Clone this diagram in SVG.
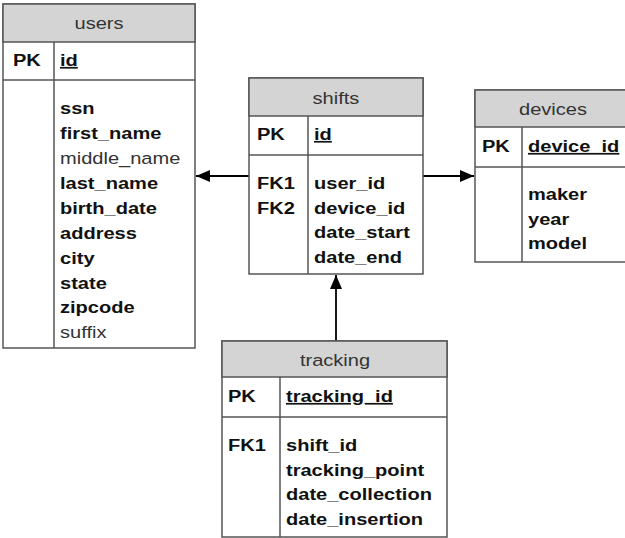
<svg xmlns="http://www.w3.org/2000/svg" width="625" height="538" viewBox="0 0 625 538">
<style>
.box{fill:#fff;stroke:#555;stroke-width:1.5}
.hdr{fill:#d4d4d4;stroke:#555;stroke-width:1.5}
.ln{stroke:#555;stroke-width:1.5;fill:none}
text{font-family:"Liberation Sans",Arial,sans-serif;font-size:17px;fill:#111}
.t{fill:#333;text-anchor:middle}
.b{font-weight:bold}
.u{font-weight:bold;text-decoration:underline}
.r{fill:#333}
.con{stroke:#000;stroke-width:1.8;fill:none}
</style>
<defs>
<marker id="ah" viewBox="0 0 14 12" refX="14" refY="6" markerWidth="14" markerHeight="12" markerUnits="userSpaceOnUse" orient="auto">
<path d="M0,0 L14,6 L0,12 Z" fill="#000"/>
</marker>
</defs>
<g id="connectors">
<line class="con" x1="249" y1="176" x2="196" y2="176" marker-end="url(#ah)"/>
<line class="con" x1="423" y1="176" x2="474" y2="176" marker-end="url(#ah)"/>
<line class="con" x1="336" y1="341" x2="336" y2="275" marker-end="url(#ah)"/>
</g>
<g id="users">
<rect class="box" x="3" y="4" width="192" height="344"/>
<rect class="hdr" x="3" y="4" width="192" height="38"/>
<line class="ln" x1="3" y1="80" x2="195" y2="80"/>
<line class="ln" x1="54" y1="42" x2="54" y2="348"/>
<text class="t" transform="translate(99,29) scale(1.18,1)">users</text>
<text class="b" transform="translate(13,66) scale(1.18,1)">PK</text>
<text class="u" transform="translate(60,66) scale(1.18,1)">id</text>
<text class="b" transform="translate(60,114) scale(1.18,1)">ssn</text>
<text class="b" transform="translate(60,139) scale(1.18,1)">first_name</text>
<text class="r" transform="translate(60,164) scale(1.18,1)">middle_name</text>
<text class="b" transform="translate(60,189) scale(1.18,1)">last_name</text>
<text class="b" transform="translate(60,214) scale(1.18,1)">birth_date</text>
<text class="b" transform="translate(60,239) scale(1.18,1)">address</text>
<text class="b" transform="translate(60,264) scale(1.18,1)">city</text>
<text class="b" transform="translate(60,289) scale(1.18,1)">state</text>
<text class="b" transform="translate(60,313) scale(1.18,1)">zipcode</text>
<text class="r" transform="translate(60,338) scale(1.18,1)">suffix</text>
</g>
<g id="shifts">
<rect class="box" x="249" y="78" width="174" height="196"/>
<rect class="hdr" x="249" y="78" width="174" height="38"/>
<line class="ln" x1="249" y1="155" x2="423" y2="155"/>
<line class="ln" x1="308" y1="116" x2="308" y2="274"/>
<text class="t" transform="translate(336,104) scale(1.18,1)">shifts</text>
<text class="b" transform="translate(257,140) scale(1.18,1)">PK</text>
<text class="u" transform="translate(314,140) scale(1.18,1)">id</text>
<text class="b" transform="translate(257,189) scale(1.18,1)">FK1</text>
<text class="b" transform="translate(257,214) scale(1.18,1)">FK2</text>
<text class="b" transform="translate(314,189) scale(1.18,1)">user_id</text>
<text class="b" transform="translate(314,214) scale(1.18,1)">device_id</text>
<text class="b" transform="translate(314,238) scale(1.18,1)">date_start</text>
<text class="b" transform="translate(314,263) scale(1.18,1)">date_end</text>
</g>
<g id="devices">
<rect class="box" x="475" y="90" width="155" height="172"/>
<rect class="hdr" x="475" y="90" width="155" height="37"/>
<line class="ln" x1="475" y1="167" x2="630" y2="167"/>
<line class="ln" x1="522" y1="127" x2="522" y2="262"/>
<text class="t" transform="translate(553,115) scale(1.18,1)">devices</text>
<text class="b" transform="translate(482,152) scale(1.18,1)">PK</text>
<text class="u" transform="translate(528,152) scale(1.18,1)">device_id</text>
<text class="b" transform="translate(528,200) scale(1.18,1)">maker</text>
<text class="b" transform="translate(528,225) scale(1.18,1)">year</text>
<text class="b" transform="translate(528,249) scale(1.18,1)">model</text>
</g>
<g id="tracking">
<rect class="box" x="222" y="341" width="225" height="196"/>
<rect class="hdr" x="222" y="341" width="225" height="36"/>
<line class="ln" x1="222" y1="417" x2="447" y2="417"/>
<line class="ln" x1="280" y1="377" x2="280" y2="537"/>
<text class="t" transform="translate(335,366) scale(1.18,1)">tracking</text>
<text class="b" transform="translate(228,402) scale(1.18,1)">PK</text>
<text class="u" transform="translate(286,402) scale(1.18,1)">tracking_id</text>
<text class="b" transform="translate(228,451) scale(1.18,1)">FK1</text>
<text class="b" transform="translate(286,451) scale(1.18,1)">shift_id</text>
<text class="b" transform="translate(286,476) scale(1.18,1)">tracking_point</text>
<text class="b" transform="translate(286,500) scale(1.18,1)">date_collection</text>
<text class="b" transform="translate(286,525) scale(1.18,1)">date_insertion</text>
</g>
</svg>
